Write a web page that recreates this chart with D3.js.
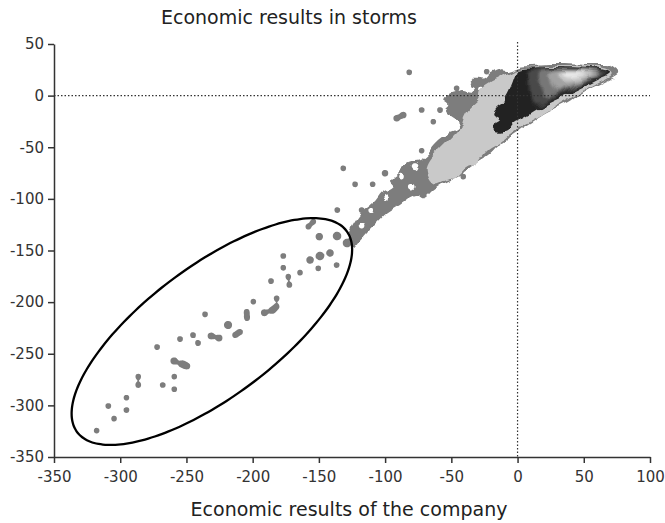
<!DOCTYPE html>
<html>
<head>
<meta charset="utf-8">
<script src="https://cdn.jsdelivr.net/npm/d3@7"></script>
<style>
body { margin: 0; background: #fff; }
svg { font-family: "DejaVu Sans", Verdana, sans-serif; }
</style>
</head>
<body>
<svg id="chart" width="665" height="523"></svg>
<script>
// axis ticks
var xTicks = [-350, -300, -250, -200, -150, -100, -50, 0, 50, 100];
var yTicks = [50, 0, -50, -100, -150, -200, -250, -300, -350];

// small isolated patches: [x, y, weight]
var blobs = [
  [-81.8, 22.6, 1], [-46.0, 7.1, 1], [-23.3, 23.2, 1], [-72.4, -13.9, 1], [-58.6, -13.9, 1],
  [-86.3, -18.8, 1.2], [-91.3, -22.0, 1.2], [-63.6, -25.3, 1], [-72.4, -53.4, 1], [-41.0, -78.5, 1],
  [-100.1, -75.2, 1.2], [-131.6, -70.4, 1], [-122.7, -85.9, 1], [-109.4, -85.9, 1],
  [-136.1, -110.8, 1], [-117.7, -110.8, 1],
  [-158.0, -127.0, 1], [-154.2, -122.1, 1], [-149.7, -136.6, 1.5],
  [-136.3, -136.0, 2], [-128.8, -142.8, 2], [-123.5, -139.8, 1.5],
  [-156.7, -159.2, 1.5], [-149.2, -155.3, 2], [-141.6, -152.4, 1.5],
  [-176.9, -155.3, 1], [-176.9, -166.7, 1], [-164.3, -171.5, 1], [-150.5, -167.3, 1], [-136.6, -164.1, 1],
  [-173.1, -175.4, 1], [-186.2, -179.6, 1], [-172.3, -183.4, 1], [-181.9, -196.3, 1], [-199.5, -199.6, 1],
  [-181.9, -204.4, 1], [-191.2, -210.3, 1.3], [-185.2, -208.0, 1.3], [-204.5, -209.3, 1], [-204.3, -215.4, 1],
  [-218.6, -222.2, 1.8], [-236.0, -211.8, 1], [-209.6, -228.9, 1], [-213.3, -231.9, 1],
  [-231.4, -232.8, 1.3], [-225.4, -234.8, 1.3], [-245.1, -231.9, 1], [-241.3, -239.6, 1], [-254.9, -235.7, 1],
  [-272.2, -243.5, 1], [-259.4, -257.0, 1.4], [-253.4, -259.9, 1.4], [-249.6, -261.9, 1.2],
  [-286.4, -272.2, 1], [-286.4, -280.3, 1], [-267.9, -280.3, 1], [-259.2, -272.2, 1], [-259.2, -284.4, 1],
  [-295.3, -292.6, 1], [-295.3, -304.5, 1], [-309.0, -300.6, 1], [-304.7, -312.9, 1], [-317.8, -324.5, 1]
];

// white gaps inside the streak: [x, y, weight]
var holes = [
  [-77.4, -68.8, 1.3], [-88.8, -78.5, 1], [-98.8, -97.9, 1.2], [-79.9, -88.2, 1],
  [-37.2, 11.9, 1], [-27.1, 7.1, 0.9], [-110.5, -112.0, 1], [-117.0, -125.0, 1], [-60.0, -35.0, 0.8]
];

// outer (medium grey) envelope of the dense cloud
var mediumBand = [
  [76.0, 22.2], [69.8, 28.7], [54.7, 29.6], [29.5, 30.6], [9.4, 29.6], [0.5, 28.7], [-8.2, 24.8],
  [-13.3, 25.5], [-20.8, 21.6], [-24.6, 16.8], [-33.4, 16.8], [-35.9, 11.9], [-32.1, 8.6], [-35.9, 3.8],
  [-42.2, 5.4], [-47.2, 2.2], [-53.5, 0.6], [-56.1, -4.3], [-52.3, -9.1], [-54.8, -13.9], [-49.7, -20.4],
  [-44.8, -25.3], [-46.0, -33.3], [-53.5, -38.1], [-58.6, -43.0], [-62.3, -47.8], [-66.1, -54.3],
  [-73.7, -62.4], [-81.2, -64.0], [-86.3, -68.9], [-91.3, -75.2], [-96.3, -81.7], [-93.8, -86.6],
  [-103.9, -94.6], [-108.9, -102.7], [-116.5, -110.8], [-121.5, -118.8], [-126.5, -130.2], [-129.0, -139.8],
  [-124.0, -147.9], [-121.5, -144.7], [-113.9, -133.3], [-106.4, -123.7], [-98.8, -114.0], [-88.8, -105.9],
  [-76.2, -96.3], [-71.2, -99.5], [-63.6, -91.4], [-56.1, -84.9], [-48.5, -80.1], [-39.7, -73.7],
  [-33.4, -67.2], [-28.4, -62.4], [-20.8, -55.9], [-15.8, -49.5], [-8.2, -43.0], [-0.7, -36.5],
  [4.3, -31.7], [11.9, -25.3], [19.4, -18.8], [29.5, -12.3], [39.6, -5.9], [44.6, -1.1], [54.7, 7.1],
  [64.7, 13.5], [72.3, 18.3]
];

// light grey plateau
var lightBand = [
  [-13.3, 18.3], [-20.8, 13.5], [-28.4, 5.4], [-29.7, -4.3], [-35.9, -12.3], [-39.7, -20.4], [-42.2, -30.1],
  [-48.5, -39.8], [-53.5, -46.2], [-58.6, -52.7], [-66.1, -62.4], [-68.6, -72.0], [-63.6, -84.9],
  [-54.8, -81.7], [-46.0, -78.5], [-38.9, -70.1], [-30.9, -65.6], [-22.3, -52.7], [-13.3, -45.9],
  [-7.2, -39.8], [4.3, -29.4], [16.9, -20.4], [29.5, -10.7], [44.6, 0.6], [59.7, 11.9], [71.1, 20.9],
  [64.7, 26.5], [29.5, 28.7], [4.3, 27.4], [-5.7, 23.2]
];

// dark core
var darkCore = [
  [0.5, 25.5], [16.9, 27.4], [42.1, 27.4], [62.2, 25.5], [69.8, 22.2], [59.7, 15.1], [44.6, 5.4],
  [29.5, -4.3], [16.9, -12.3], [4.3, -22.0], [-3.2, -26.8], [-7.0, -33.3], [-13.3, -35.0], [-17.0, -33.3],
  [-18.3, -28.5], [-13.3, -23.6], [-18.3, -18.8], [-15.8, -12.3], [-10.8, -7.4], [-9.5, -1.1],
  [-7.0, 5.4], [-4.4, 13.5], [-1.9, 21.6]
];

// inner levels of the core, lowest to highest
var coreLevel1 = [[9.4, 24.3], [35.8, 26.3], [60.7, 24.3], [66.8, 21.9], [57.0, 15.6], [43.4, 7.4],
  [30.5, -0.4], [20.7, -7.2], [14.7, -10.1], [10.9, 0.6], [9.4, 13.2]];
var coreLevel2 = [[16.9, 23.4], [39.6, 25.3], [59.2, 23.4], [63.7, 21.4], [54.7, 16.1], [41.9, 8.8],
  [29.8, 2.0], [23.0, -1.3], [18.4, 7.4]];
var coreLevel3 = [[24.5, 22.9], [43.4, 24.3], [57.7, 22.9], [60.7, 20.9], [52.4, 16.6], [40.3, 10.3],
  [30.5, 5.4], [24.5, 13.2]];
var coreLevel4 = [[30.5, 21.9], [45.6, 23.4], [56.2, 21.9], [50.2, 17.5], [38.1, 13.2], [31.3, 16.1]];
var coreLevel5 = [[34.3, 21.4], [45.6, 22.4], [52.4, 20.9], [44.1, 18.5], [35.8, 18.0]];

// annotation ellipse: centre and two conjugate half axes, in data units
var ellipseCenter = [-230.8, -228.5];
var ellipseU = [105.9, 79.4];
var ellipseV = [0, -75.9];

var svg = d3.select("#chart");
var x = d3.scaleLinear().domain([-350, 100]).range([54, 650]);
var y = d3.scaleLinear().domain([-350, 50]).range([457, 44]);

// filters: blobby edges for the cloud, soft shading for the core
var defs = svg.append("defs");
var rough = defs.append("filter").attr("id", "rough")
  .attr("x", "-10%").attr("y", "-10%").attr("width", "120%").attr("height", "120%");
rough.append("feTurbulence")
  .attr("type", "fractalNoise").attr("baseFrequency", 0.065)
  .attr("numOctaves", 2).attr("seed", 4).attr("result", "noise");
rough.append("feDisplacementMap")
  .attr("in", "SourceGraphic").attr("in2", "noise")
  .attr("scale", 9).attr("xChannelSelector", "R").attr("yChannelSelector", "G")
  .attr("result", "moved");
rough.append("feGaussianBlur").attr("in", "moved").attr("stdDeviation", 0.6);

defs.append("filter").attr("id", "soft")
  .attr("x", "-20%").attr("y", "-20%").attr("width", "140%").attr("height", "140%")
  .append("feGaussianBlur").attr("stdDeviation", 1.8);

defs.append("filter").attr("id", "edge")
  .append("feGaussianBlur").attr("stdDeviation", 0.5);

var density = function(points, level) {
  return d3.contourDensity()
    .x(function(d) { return x(d[0]); })
    .y(function(d) { return y(d[1]); })
    .weight(function(d) { return d[2]; })
    .size([665, 523])
    .cellSize(1)
    .bandwidth(2.5)
    .thresholds([level])
    (points);
};

var area = d3.line()
  .x(function(d) { return x(d[0]); })
  .y(function(d) { return y(d[1]); })
  .curve(d3.curveCatmullRomClosed.alpha(0.5));

svg.append("g").attr("filter", "url(#edge)")
  .selectAll("path.blob")
  .data(density(blobs, 0.013))
  .enter().append("path")
  .attr("class", "blob")
  .attr("d", d3.geoPath())
  .attr("fill", "#7d7d7d");

var streak = svg.append("g").attr("filter", "url(#rough)");

streak.append("path")
  .datum(mediumBand)
  .attr("d", area)
  .attr("fill", "#7d7d7d");

streak.selectAll("path.hole")
  .data(density(holes, 0.013))
  .enter().append("path")
  .attr("class", "hole")
  .attr("d", d3.geoPath())
  .attr("fill", "#fff");

streak.append("path")
  .datum(lightBand)
  .attr("d", area)
  .attr("fill", "#c9c9c9");

streak.append("path")
  .datum(darkCore)
  .attr("d", area)
  .attr("fill", "#242424");

var levels = [coreLevel1, coreLevel2, coreLevel3, coreLevel4, coreLevel5];
var shades = ["#4a4a4a", "#777", "#a2a2a2", "#c8c8c8", "#eaeaea"];

streak.append("g")
  .attr("filter", "url(#soft)")
  .selectAll("path")
  .data(levels)
  .enter().append("path")
  .attr("d", area)
  .attr("fill", function(d, i) { return shades[i]; });

// dotted reference lines
svg.append("line")
  .attr("x1", x(-350)).attr("x2", x(100))
  .attr("y1", y(0)).attr("y2", y(0))
  .attr("stroke", "#333").attr("stroke-width", 1.2)
  .attr("stroke-dasharray", "1.5,2");
svg.append("line")
  .attr("x1", x(0)).attr("x2", x(0))
  .attr("y1", y(50) - 2).attr("y2", y(-350))
  .attr("stroke", "#333").attr("stroke-width", 1.2)
  .attr("stroke-dasharray", "1.5,2");

// ellipse
var ring = d3.range(0, 361, 3).map(function(a) {
  var t = a * Math.PI / 180;
  return [ellipseCenter[0] + ellipseU[0] * Math.cos(t) + ellipseV[0] * Math.sin(t),
          ellipseCenter[1] + ellipseU[1] * Math.cos(t) + ellipseV[1] * Math.sin(t)];
});
svg.append("path")
  .attr("d", d3.line()
    .x(function(d) { return x(d[0]); })
    .y(function(d) { return y(d[1]); })
    .curve(d3.curveCatmullRomClosed)(ring))
  .attr("fill", "none")
  .attr("stroke", "#000")
  .attr("stroke-width", 2.3);

// axes
var fmt = function(d) { return String(d); };

svg.append("g")
  .attr("transform", "translate(" + x(-350) + ",0)")
  .call(d3.axisLeft(y).tickValues(yTicks).tickFormat(fmt).tickSize(6).tickSizeOuter(0).tickPadding(4));

svg.append("g")
  .attr("transform", "translate(0," + y(-350) + ")")
  .call(d3.axisBottom(x).tickValues(xTicks).tickFormat(fmt).tickSize(6).tickSizeOuter(0).tickPadding(8));

svg.selectAll(".domain, .tick line")
  .attr("stroke", "#333")
  .attr("stroke-width", 1.5);
svg.selectAll(".tick text")
  .attr("fill", "#333")
  .style("font-size", "15px")
  .style("font-family", "'DejaVu Sans', Verdana, sans-serif");

svg.append("text")
  .attr("x", 161)
  .attr("y", 24)
  .attr("fill", "#222")
  .style("font-size", "19px")
  .text("Economic results in storms");

svg.append("text")
  .attr("x", 349)
  .attr("y", 516)
  .attr("text-anchor", "middle")
  .attr("fill", "#222")
  .style("font-size", "19px")
  .text("Economic results of the company");
</script>
</body>
</html>
